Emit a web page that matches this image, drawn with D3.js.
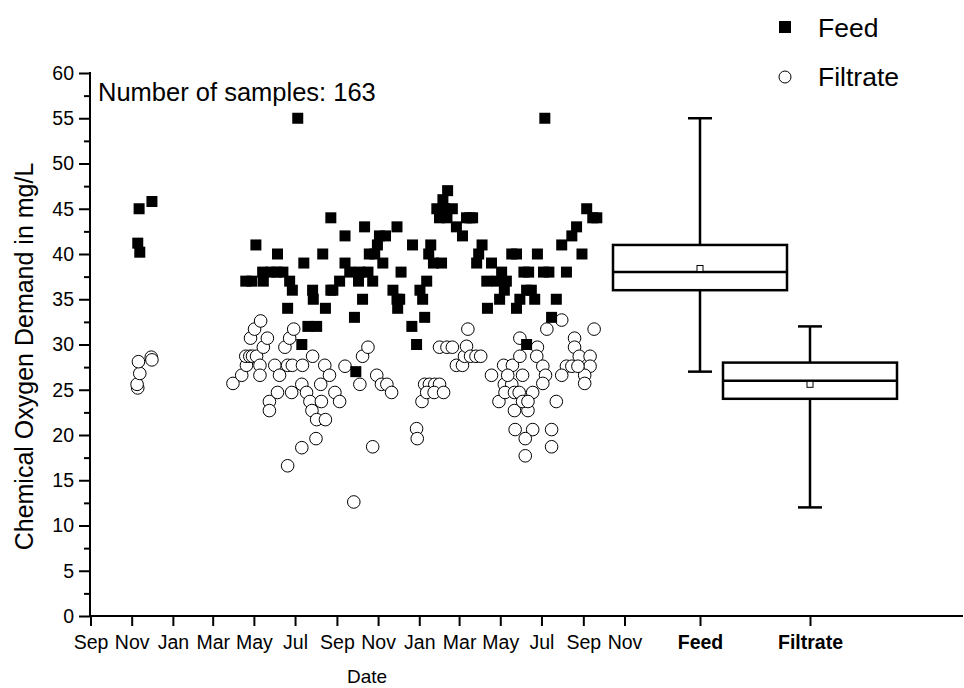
<!DOCTYPE html>
<html>
<head>
<meta charset="utf-8">
<script src="https://cdn.jsdelivr.net/npm/d3@7"></script>
<style>
    body { margin: 0; background: #fff; }
    svg { display: block; font-family: "Liberation Sans", Arial, sans-serif; }
</style>
</head>
<body>
<svg id="chart"></svg>
<script>
const width = 964;
const height = 688;

// COD samples: [date, mg/L]
const feedSamples = [
    ["2008-11-12", 45], ["2008-12-01", 45.8], ["2008-11-10", 41.2], ["2008-11-13", 40.2],
    ["2009-04-19", 37], ["2009-04-28", 37], ["2009-05-04", 41], ["2009-05-14", 38], ["2009-05-15", 37],
    ["2009-05-26", 38], ["2009-06-04", 38], ["2009-06-05", 40], ["2009-06-13", 38], ["2009-06-20", 34],
    ["2009-06-23", 37], ["2009-06-27", 36], ["2009-07-05", 55], ["2009-07-11", 30], ["2009-07-14", 39],
    ["2009-07-20", 32], ["2009-07-27", 36], ["2009-07-28", 35], ["2009-08-02", 32], ["2009-08-11", 40],
    ["2009-08-15", 34], ["2009-08-23", 36], ["2009-08-23", 44], ["2009-08-26", 36], ["2009-09-05", 37],
    ["2009-09-13", 39], ["2009-09-13", 42], ["2009-09-20", 38], ["2009-09-27", 33], ["2009-09-29", 27],
    ["2009-10-03", 37], ["2009-10-05", 38], ["2009-10-09", 35], ["2009-10-12", 43], ["2009-10-17", 38],
    ["2009-10-19", 40], ["2009-10-24", 37], ["2009-10-27", 40], ["2009-10-31", 41], ["2009-11-03", 42],
    ["2009-11-08", 39], ["2009-11-12", 42], ["2009-11-23", 36], ["2009-11-29", 43], ["2009-11-29", 35],
    ["2009-12-03", 35], ["2009-11-30", 34], ["2009-12-05", 38], ["2009-12-21", 32], ["2009-12-22", 41],
    ["2009-12-28", 30], ["2010-01-02", 36], ["2010-01-06", 35], ["2010-01-09", 33], ["2010-01-12", 37],
    ["2010-01-15", 40], ["2010-01-18", 41], ["2010-01-22", 39], ["2010-01-27", 45], ["2010-01-31", 44],
    ["2010-02-03", 39], ["2010-02-05", 46], ["2010-02-08", 45], ["2010-02-11", 44], ["2010-02-12", 47],
    ["2010-02-19", 45], ["2010-02-25", 43], ["2010-03-06", 42], ["2010-03-12", 44], ["2010-03-17", 44],
    ["2010-03-21", 44], ["2010-03-27", 39], ["2010-03-30", 40], ["2010-04-04", 41], ["2010-04-11", 37],
    ["2010-04-12", 34], ["2010-04-18", 39], ["2010-04-26", 37], ["2010-04-30", 35], ["2010-05-03", 38],
    ["2010-05-07", 36], ["2010-05-10", 37], ["2010-05-18", 40], ["2010-05-25", 40], ["2010-05-25", 34],
    ["2010-05-30", 35], ["2010-06-05", 38], ["2010-06-09", 36], ["2010-06-09", 30], ["2010-06-12", 38],
    ["2010-06-16", 36], ["2010-06-21", 35], ["2010-06-25", 40], ["2010-07-04", 38], ["2010-07-06", 55],
    ["2010-07-12", 38], ["2010-07-16", 33], ["2010-07-23", 35], ["2010-07-31", 41], ["2010-08-07", 38],
    ["2010-08-15", 42], ["2010-08-22", 43], ["2010-08-30", 40], ["2010-09-06", 45], ["2010-09-15", 44],
    ["2010-09-21", 44]
];

const filtrateSamples = [
    ["2008-11-10", 25.2], ["2008-11-09", 25.6], ["2008-11-13", 26.8], ["2008-11-11", 28.1],
    ["2008-11-30", 28.6], ["2008-12-01", 28.3],
    ["2009-03-31", 25.7], ["2009-04-13", 26.6], ["2009-04-20", 27.7], ["2009-04-19", 28.7], ["2009-04-25", 28.7],
    ["2009-04-26", 30.7], ["2009-04-29", 28.7], ["2009-05-02", 31.7], ["2009-05-05", 28.7], ["2009-05-10", 27.7],
    ["2009-05-10", 26.6], ["2009-05-11", 32.6], ["2009-05-15", 29.7], ["2009-05-21", 30.7], ["2009-05-24", 23.7],
    ["2009-05-24", 22.7], ["2009-06-01", 27.7], ["2009-06-05", 24.7], ["2009-06-08", 26.6], ["2009-06-16", 29.7],
    ["2009-06-20", 27.7], ["2009-06-20", 16.6], ["2009-06-23", 30.7], ["2009-06-26", 24.7], ["2009-06-27", 27.7],
    ["2009-06-29", 31.7], ["2009-07-11", 18.6], ["2009-07-11", 25.6], ["2009-07-12", 27.7], ["2009-07-18", 24.7],
    ["2009-07-23", 23.7], ["2009-07-26", 22.7], ["2009-07-27", 28.7], ["2009-08-01", 19.6], ["2009-08-02", 21.7],
    ["2009-08-08", 25.6], ["2009-08-09", 23.7], ["2009-08-14", 27.7], ["2009-08-15", 21.7], ["2009-08-21", 26.6],
    ["2009-08-29", 24.7], ["2009-09-05", 23.7], ["2009-09-13", 27.6], ["2009-09-26", 12.6], ["2009-10-05", 25.6],
    ["2009-10-09", 28.7], ["2009-10-17", 29.7], ["2009-10-24", 18.7], ["2009-10-30", 26.6], ["2009-11-06", 25.6],
    ["2009-11-14", 25.6], ["2009-11-21", 24.7], ["2009-12-28", 20.7], ["2009-12-29", 19.6], ["2010-01-05", 23.7],
    ["2010-01-09", 25.6], ["2010-01-16", 25.6], ["2010-01-24", 25.6], ["2010-01-31", 25.6], ["2010-01-12", 24.7],
    ["2010-01-23", 24.7], ["2010-02-06", 24.7], ["2010-01-31", 29.7], ["2010-02-11", 29.7], ["2010-02-19", 29.7],
    ["2010-02-25", 27.7], ["2010-03-06", 27.7], ["2010-03-09", 28.7], ["2010-03-12", 29.8], ["2010-03-14", 31.7],
    ["2010-03-18", 28.7], ["2010-03-26", 28.7], ["2010-04-02", 28.7], ["2010-04-18", 26.6], ["2010-04-29", 23.7],
    ["2010-05-06", 27.7], ["2010-05-19", 27.7], ["2010-05-07", 25.6], ["2010-05-18", 25.6], ["2010-05-12", 26.6],
    ["2010-06-03", 26.6], ["2010-05-08", 24.7], ["2010-05-22", 24.7], ["2010-05-29", 24.7], ["2010-05-22", 22.7],
    ["2010-06-11", 22.7], ["2010-05-23", 20.6], ["2010-06-18", 20.6], ["2010-06-07", 19.6], ["2010-06-07", 17.7],
    ["2010-05-30", 30.7], ["2010-05-30", 28.7], ["2010-06-25", 29.7], ["2010-06-24", 28.7], ["2010-07-03", 27.6],
    ["2010-07-07", 26.6], ["2010-07-03", 25.7], ["2010-06-18", 24.7], ["2010-06-03", 23.7], ["2010-06-11", 23.7],
    ["2010-07-23", 23.7], ["2010-07-16", 20.6], ["2010-07-16", 18.7], ["2010-07-09", 31.7], ["2010-07-31", 32.7],
    ["2010-08-19", 30.7], ["2010-08-19", 29.7], ["2010-08-07", 27.6], ["2010-08-15", 27.6], ["2010-07-31", 26.6],
    ["2010-08-26", 28.7], ["2010-09-11", 28.7], ["2010-09-11", 27.6], ["2010-09-03", 26.6], ["2010-09-03", 25.7],
    ["2010-09-17", 31.7], ["2010-08-24", 27.6]
];

// box statistics per stream
const boxGroups = ["Feed", "Filtrate"];
const boxMin = [27, 12];
const boxQ1 = [36, 24];
const boxMedian = [38, 26];
const boxQ3 = [41, 28];
const boxMax = [55, 32];
const boxMean = [38.4, 25.6];

const yTicks = d3.range(0, 61, 5);
const yMinorTicks = d3.range(2.5, 60, 5);
const dateStart = "2008-09-01";
const dateEnd = "2010-11-01";
const sampleNote = "Number of samples: 163";

const parse = d3.timeParse("%Y-%m-%d");

const svg = d3.select("#chart").attr("width", width).attr("height", height);

const x = d3.scaleTime().domain([parse(dateStart), parse(dateEnd)]).range([90.5, 624.5]);
const xCat = d3.scalePoint().domain(boxGroups).range([700, 810]);
const y = d3.scaleLinear().domain([0, 60]).range([616, 73]);

const axisColor = "#000";
const boxWidth = 174;
const capWidth = 24;

// y axis
const yAxis = svg.append("g").attr("transform", "translate(90,0)")
    .call(d3.axisLeft(y).tickValues(yTicks).tickSize(11).tickPadding(5));
yAxis.append("g")
    .call(d3.axisLeft(y).tickValues(yMinorTicks).tickSize(6).tickFormat(""));
yAxis.selectAll(".domain").remove();
yAxis.selectAll("line").attr("stroke", axisColor).attr("stroke-width", 2);
yAxis.selectAll("text").attr("font-size", "19.5px").attr("font-family", "Liberation Sans, Arial, sans-serif").attr("fill", "#000");

svg.append("line")
    .attr("x1", 90).attr("x2", 90).attr("y1", y(60) - 1).attr("y2", y(0) + 1)
    .attr("stroke", axisColor).attr("stroke-width", 2);

// x axis: dates then the two box categories
const xAxis = svg.append("g").attr("transform", `translate(0,${y(0)})`)
    .call(d3.axisBottom(x).ticks(d3.timeMonth.every(2)).tickFormat(d3.timeFormat("%b")).tickSize(10).tickPadding(9));
const catAxis = svg.append("g").attr("transform", `translate(0,${y(0)})`)
    .call(d3.axisBottom(xCat).tickSize(10).tickPadding(9));
[xAxis, catAxis].forEach(g => {
    g.selectAll(".domain").remove();
    g.selectAll("line").attr("stroke", axisColor).attr("stroke-width", 2);
    g.selectAll("text").attr("font-size", "19.5px").attr("font-family", "Liberation Sans, Arial, sans-serif").attr("fill", "#000");
});
catAxis.selectAll("text").attr("font-weight", "bold");

svg.append("line")
    .attr("x1", 89).attr("x2", 963).attr("y1", y(0)).attr("y2", y(0))
    .attr("stroke", axisColor).attr("stroke-width", 2);

// axis titles
svg.append("text")
    .attr("transform", `translate(33,${(y(60) + y(0)) / 2 + 12}) rotate(-90)`)
    .attr("text-anchor", "middle")
    .attr("font-size", "25px")
    .text("Chemical Oxygen Demand in mg/L");

svg.append("text")
    .attr("x", 367).attr("y", 683)
    .attr("text-anchor", "middle")
    .attr("font-size", "19px")
    .text("Date");

svg.append("text")
    .attr("x", 98).attr("y", 101)
    .attr("font-size", "25.5px")
    .text(sampleNote);

// scatter: filtrate circles under feed squares
svg.append("g").selectAll("circle")
    .data(filtrateSamples).enter().append("circle")
    .attr("cx", d => x(parse(d[0])))
    .attr("cy", d => y(d[1]))
    .attr("r", 6.3)
    .attr("fill", "#fff")
    .attr("stroke", "#000")
    .attr("stroke-width", 1);

const sq = 11;
svg.append("g").selectAll("rect")
    .data(feedSamples).enter().append("rect")
    .attr("x", d => x(parse(d[0])) - sq / 2)
    .attr("y", d => y(d[1]) - sq / 2)
    .attr("width", sq).attr("height", sq)
    .attr("fill", "#000");

// box plots
const boxes = svg.append("g").selectAll("g")
    .data(boxGroups.map((g, i) => ({ g, min: boxMin[i], q1: boxQ1[i], med: boxMedian[i], q3: boxQ3[i], max: boxMax[i], mean: boxMean[i] })))
    .enter().append("g")
    .attr("stroke", "#000")
    .attr("stroke-width", 2.5)
    .attr("fill", "none");

boxes.append("line")
    .attr("x1", d => xCat(d.g)).attr("x2", d => xCat(d.g))
    .attr("y1", d => y(d.max)).attr("y2", d => y(d.q3));
boxes.append("line")
    .attr("x1", d => xCat(d.g)).attr("x2", d => xCat(d.g))
    .attr("y1", d => y(d.q1)).attr("y2", d => y(d.min));
boxes.append("line")
    .attr("x1", d => xCat(d.g) - capWidth / 2).attr("x2", d => xCat(d.g) + capWidth / 2)
    .attr("y1", d => y(d.max)).attr("y2", d => y(d.max));
boxes.append("line")
    .attr("x1", d => xCat(d.g) - capWidth / 2).attr("x2", d => xCat(d.g) + capWidth / 2)
    .attr("y1", d => y(d.min)).attr("y2", d => y(d.min));
boxes.append("rect")
    .attr("x", d => xCat(d.g) - boxWidth / 2).attr("width", boxWidth)
    .attr("y", d => y(d.q3)).attr("height", d => y(d.q1) - y(d.q3));
boxes.append("line")
    .attr("x1", d => xCat(d.g) - boxWidth / 2).attr("x2", d => xCat(d.g) + boxWidth / 2)
    .attr("y1", d => y(d.med)).attr("y2", d => y(d.med));
boxes.append("rect")
    .attr("x", d => xCat(d.g) - 3).attr("y", d => y(d.mean) - 3)
    .attr("width", 6).attr("height", 6)
    .attr("fill", "#fff").attr("stroke-width", 1);

// legend
const legend = svg.append("g");
legend.append("rect").attr("x", 779).attr("y", 21).attr("width", 12).attr("height", 12).attr("fill", "#000");
legend.append("circle").attr("cx", 785).attr("cy", 77).attr("r", 6).attr("fill", "#fff").attr("stroke", "#000").attr("stroke-width", 1);
legend.selectAll("text").data(boxGroups).enter().append("text")
    .attr("x", 818)
    .attr("y", (d, i) => 37 + i * 49)
    .attr("font-size", "26.5px")
    .text(d => d);
</script>
</body>
</html>
